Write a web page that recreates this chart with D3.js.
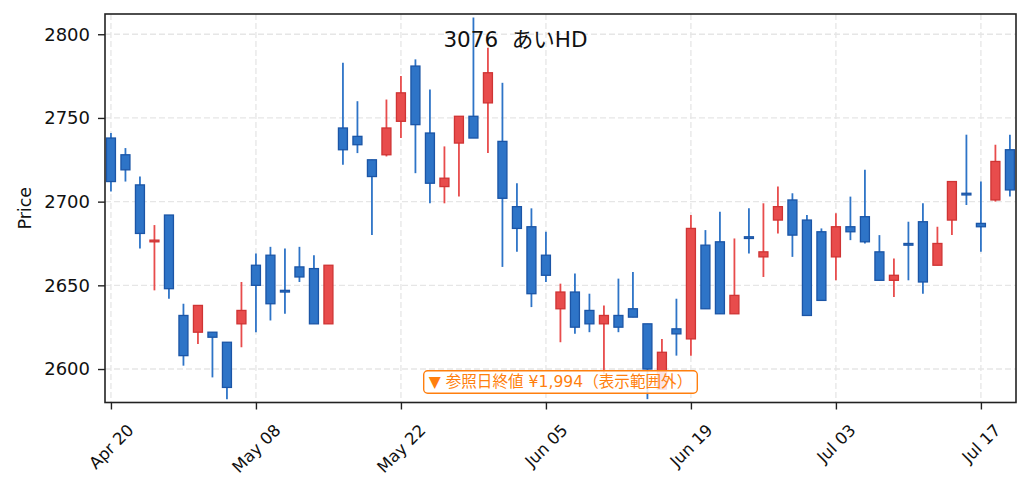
<!DOCTYPE html>
<html>
<head>
<meta charset="utf-8">
<script src="https://cdn.jsdelivr.net/npm/d3@7"></script>
<style>
  html, body { margin: 0; padding: 0; background: #fff; }
  svg { display: block; font-family: "DejaVu Sans", "Noto Sans CJK JP", sans-serif; }
</style>
</head>
<body>
<div id="chart"></div>
<script>
const title = "3076\u00a0\u00a0あいHD"
const note = "▼ 参照日終値 ¥1,994（表示範囲外）"
const fontStack = "'DejaVu Sans', 'Noto Sans CJK JP', sans-serif"

const dates = [
  "2026-04-20", "2026-04-21", "2026-04-22", "2026-04-23", "2026-04-24",
  "2026-04-27", "2026-04-28", "2026-04-30", "2026-05-01", "2026-05-07",
  "2026-05-08", "2026-05-11", "2026-05-12", "2026-05-13", "2026-05-14",
  "2026-05-15", "2026-05-18", "2026-05-19", "2026-05-20", "2026-05-21",
  "2026-05-22", "2026-05-25", "2026-05-26", "2026-05-27", "2026-05-28",
  "2026-05-29", "2026-06-01", "2026-06-02", "2026-06-03", "2026-06-04",
  "2026-06-05", "2026-06-08", "2026-06-09", "2026-06-10", "2026-06-11",
  "2026-06-12", "2026-06-15", "2026-06-16", "2026-06-17", "2026-06-18",
  "2026-06-19", "2026-06-22", "2026-06-23", "2026-06-24", "2026-06-25",
  "2026-06-26", "2026-06-29", "2026-06-30", "2026-07-01", "2026-07-02",
  "2026-07-03", "2026-07-06", "2026-07-07", "2026-07-08", "2026-07-09",
  "2026-07-10", "2026-07-13", "2026-07-14", "2026-07-15", "2026-07-16",
  "2026-07-17", "2026-07-21", "2026-07-22"
]

const opens = [
  2738, 2728, 2710, 2676, 2692, 2632, 2622, 2622, 2616, 2627,
  2662, 2668, 2647, 2661, 2660, 2627, 2744, 2739, 2725, 2728,
  2748, 2781, 2741, 2709, 2735, 2751, 2759, 2736, 2697, 2685,
  2668, 2636, 2646, 2635, 2627, 2632, 2636, 2627, 2588, 2624,
  2618, 2674, 2676, 2633, 2679, 2667, 2689, 2701, 2689, 2682,
  2667, 2685, 2691, 2670, 2653, 2675, 2688, 2662, 2689, 2705,
  2687, 2701, 2731
]
const highs = [
  2741, 2732, 2715, 2686, 2692, 2639, 2638, 2622, 2616, 2652,
  2669, 2673, 2672, 2673, 2668, 2662, 2783, 2760, 2725, 2761,
  2775, 2785, 2767, 2733, 2751, 2810, 2792, 2771, 2711, 2696,
  2682, 2651, 2657, 2645, 2638, 2654, 2658, 2627, 2618, 2642,
  2692, 2683, 2694, 2678, 2696, 2699, 2709, 2705, 2692, 2684,
  2693, 2703, 2719, 2680, 2666, 2688, 2699, 2685, 2712, 2740,
  2712, 2734, 2740
]
const lows = [
  2706, 2712, 2672, 2647, 2642, 2602, 2615, 2595, 2582, 2613,
  2622, 2629, 2633, 2652, 2627, 2627, 2722, 2729, 2680, 2727,
  2738, 2717, 2699, 2699, 2703, 2738, 2729, 2661, 2670, 2637,
  2652, 2616, 2621, 2622, 2597, 2622, 2631, 2582, 2588, 2608,
  2608, 2636, 2633, 2633, 2669, 2655, 2681, 2667, 2632, 2641,
  2653, 2677, 2675, 2653, 2643, 2653, 2645, 2662, 2680, 2698,
  2670, 2700, 2703
]
const closes = [
  2712, 2719, 2681, 2677, 2648, 2608, 2638, 2619, 2589, 2635,
  2650, 2639, 2646, 2655, 2627, 2662, 2731, 2734, 2715, 2744,
  2765, 2746, 2711, 2714, 2751, 2738, 2777, 2702, 2684, 2645,
  2656, 2646, 2625, 2627, 2632, 2625, 2631, 2600, 2610, 2621,
  2684, 2636, 2633, 2644, 2678, 2670, 2697, 2680, 2632, 2641,
  2685, 2682, 2676, 2653, 2656, 2674, 2652, 2675, 2712, 2704,
  2685, 2724, 2707
]
const yTicks = [2600, 2650, 2700, 2750, 2800]
const labelEvery = 10

const upFill = "#e84c4c", upStroke = "#cf3434"
const downFill = "#2e74c7", downStroke = "#1b55a6"

const width = 1031, height = 492
const margin = { top: 14, right: 15, bottom: 89.5, left: 105 }
const innerW = width - margin.left - margin.right
const innerH = height - margin.top - margin.bottom

const parse = d3.timeParse("%Y-%m-%d")
const fmt = d3.timeFormat("%b %d")

const candles = dates.map((d, i) => ({
  i, date: parse(d), open: opens[i], high: highs[i], low: lows[i], close: closes[i]
}))

const x = d3.scaleLinear().domain([-0.41, dates.length - 1 + 0.42]).range([0, innerW])
const y = d3.scaleLinear().domain([2580, 2812.1]).range([innerH, 0])
const step = x(1) - x(0)
const bodyW = step * 0.62

const svg = d3.select("#chart").append("svg")
  .attr("width", width).attr("height", height)
  .attr("viewBox", `0 0 ${width} ${height}`)

const g = svg.append("g").attr("transform", `translate(${margin.left},${margin.top})`)

const tickIdx = d3.range(0, dates.length, labelEvery)

// grid
g.append("g").selectAll("line.h").data(yTicks).join("line")
  .attr("x1", 0).attr("x2", innerW)
  .attr("y1", d => y(d)).attr("y2", d => y(d))
  .attr("stroke", "#e6e6e6").attr("stroke-width", 1.3).attr("stroke-dasharray", "6,3")
g.append("g").selectAll("line.v").data(tickIdx).join("line")
  .attr("x1", d => x(d)).attr("x2", d => x(d))
  .attr("y1", 0).attr("y2", innerH)
  .attr("stroke", "#e6e6e6").attr("stroke-width", 1.3).attr("stroke-dasharray", "6,3")

// title (sits under the candles)
svg.append("text")
  .attr("x", width / 2).attr("y", 47)
  .attr("text-anchor", "middle")
  .attr("font-size", 21.5).attr("fill", "#111")
  .text(title)

// candles
const c = g.append("g").selectAll("g").data(candles).join("g")
c.append("line")
  .attr("x1", d => x(d.i)).attr("x2", d => x(d.i))
  .attr("y1", d => y(d.high)).attr("y2", d => y(d.low))
  .attr("stroke", d => d.close >= d.open ? upFill : downFill)
  .attr("stroke-width", 1.8)
c.append("rect")
  .attr("x", d => x(d.i) - bodyW / 2)
  .attr("width", bodyW)
  .attr("y", d => y(Math.max(d.open, d.close)))
  .attr("height", d => Math.max(1, Math.abs(y(d.open) - y(d.close))))
  .attr("fill", d => d.close >= d.open ? upFill : downFill)
  .attr("stroke", d => d.close >= d.open ? upStroke : downStroke)
  .attr("stroke-width", 1.3)

// note box
const noteG = g.append("g").attr("transform", `translate(${innerW / 2},${innerH - 20.5})`)
const noteText = noteG.append("text")
  .attr("text-anchor", "middle").attr("dy", "0.35em")
  .attr("font-size", 15.6).attr("fill", "#ff7f0e")
  .text(note)
const nb = noteText.node().getBBox()
noteG.insert("rect", "text")
  .attr("x", nb.x - 5).attr("y", -11.2)
  .attr("width", nb.width + 10).attr("height", 22.4)
  .attr("rx", 4)
  .attr("fill", "#fff").attr("fill-opacity", 0.85)
  .attr("stroke", "#ff7f0e").attr("stroke-width", 1.4)

// axes
const yAxis = g.append("g")
  .call(d3.axisLeft(y).tickValues(yTicks).tickSize(7).tickPadding(8).tickFormat(d3.format("d")))
  .attr("font-family", fontStack).attr("font-size", 18)
yAxis.select(".domain").remove()
yAxis.selectAll(".tick line").attr("stroke", "#222").attr("stroke-width", 1.4)
yAxis.selectAll(".tick text").attr("fill", "#111")

const xFont = 16.5
const xAxis = g.append("g").attr("transform", `translate(0,${innerH})`)
  .call(d3.axisBottom(x).tickValues(tickIdx).tickSize(7).tickFormat(i => fmt(candles[i].date)))
  .attr("font-family", fontStack).attr("font-size", xFont)
xAxis.select(".domain").remove()
xAxis.selectAll(".tick line").attr("stroke", "#222").attr("stroke-width", 1.4)
xAxis.selectAll(".tick text")
  .attr("fill", "#111")
  .attr("text-anchor", "middle").attr("dy", null).attr("y", 0)
  .attr("dominant-baseline", "central")
  .each(function () {
    const L = this.getComputedTextLength()
    const half = (L + xFont) / (2 * Math.SQRT2)
    d3.select(this).attr("transform", `translate(0,${19 + half}) rotate(-45)`)
  })

// frame
g.append("rect")
  .attr("width", innerW).attr("height", innerH)
  .attr("fill", "none").attr("stroke", "#222").attr("stroke-width", 1.6)

// y label
svg.append("text")
  .attr("transform", `translate(25,${margin.top + innerH / 2}) rotate(-90)`)
  .attr("text-anchor", "middle").attr("dominant-baseline", "central")
  .attr("font-size", 17.5).attr("fill", "#111")
  .text("Price")
</script>
</body>
</html>
